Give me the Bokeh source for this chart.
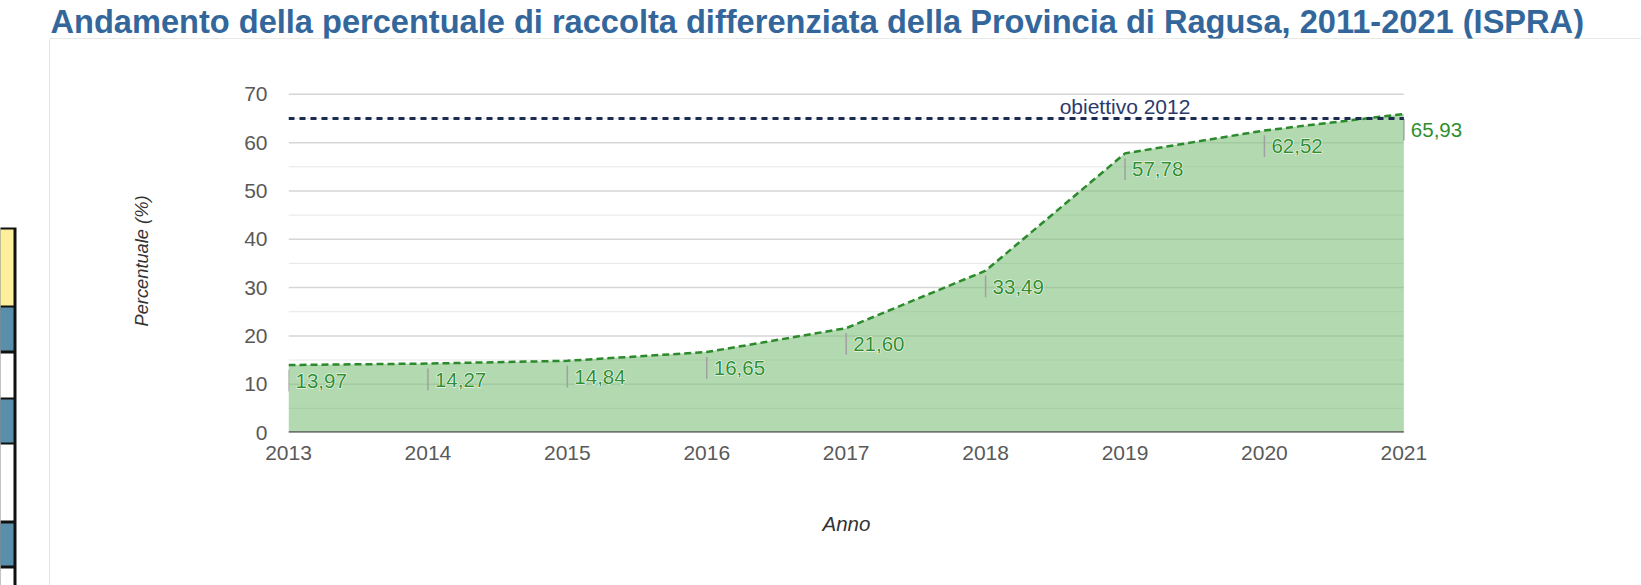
from bokeh.plotting import figure
from bokeh.layouts import column, row
from bokeh.models import (ColumnDataSource, Range1d, FixedTicker, LabelSet, Label, Title)
from bokeh.core.properties import value
from bokeh.embed import file_html
from bokeh.resources import INLINE

# ---------------- data ----------------
years = [2013, 2014, 2015, 2016, 2017, 2018, 2019, 2020, 2021]
percent = [13.97, 14.27, 14.84, 16.65, 21.60, 33.49, 57.78, 62.52, 65.93]
target_value = 65
target_label = "obiettivo 2012"
y_ticks = [0, 10, 20, 30, 40, 50, 60, 70]
y_minor = [5, 15, 25, 35, 45, 55, 65]
title_text = ("Andamento della percentuale di raccolta differenziata della "
              "Provincia di Ragusa, 2011-2021 (ISPRA)")
x_label = "Anno"
y_label = "Percentuale (%)"

# ---------------- style ----------------
FONT = "Liberation Sans"
TITLE_COLOR = "#33679c"
GREEN_LINE = "#2b8a2b"
GREEN_TEXT = "#2f8f2f"
AREA_COLOR = "#80c07d"
NAVY = "#1c2b50"
PANEL_LINE = "#d4d4cc"

# decoration: fragment of a neighbouring table at the left border (page px)
frag_cells_top = [229, 307, 353, 399, 444, 523, 568]
frag_cells_bot = [305, 350, 397, 442, 520, 565, 600]
frag_cells_col = ["#fdef9b", "#5a8fab", "#ffffff", "#5a8fab", "#ffffff", "#5a8fab", "#ffffff"]

W, H = 1641, 585
TOP_H = 39
LEFT_W = 50


def no_align(fig):
    if "frame_align" in fig.properties():
        fig.frame_align = False
    return fig


# ---------------- top strip (title + panel top border) ----------------
top = figure(width=W, height=TOP_H, x_range=Range1d(0, W), y_range=Range1d(TOP_H, 0),
             x_axis_type=None, y_axis_type=None, output_backend="svg",
             toolbar_location=None, min_border=0, outline_line_color=None)
top.min_border_left = top.min_border_right = top.min_border_top = top.min_border_bottom = 0
top.text(x=[50], y=[20.5], text=[title_text], text_font=value(FONT), text_font_style="bold",
         text_font_size="32.6px", text_color=TITLE_COLOR, text_baseline="middle",
         text_align="left")
top.segment(x0=[49], y0=[38.5], x1=[W], y1=[38.5], line_color=PANEL_LINE, line_width=1.2)
no_align(top)

# ---------------- left strip (table fragment + panel left border) ----------------
left = figure(width=LEFT_W, height=H - TOP_H, x_range=Range1d(0, LEFT_W),
              y_range=Range1d(H, TOP_H),
              x_axis_type=None, y_axis_type=None, output_backend="svg",
              toolbar_location=None, min_border=0, outline_line_color=None)
left.min_border_left = left.min_border_right = left.min_border_top = left.min_border_bottom = 0
left.quad(left=[-2], right=[16], top=[227], bottom=[600], fill_color="#111111", line_color=None)
left.quad(left=[-2] * len(frag_cells_top), right=[13] * len(frag_cells_top),
          top=frag_cells_top, bottom=frag_cells_bot, fill_color=frag_cells_col, line_color=None)
left.segment(x0=[49.5], y0=[38], x1=[49.5], y1=[600], line_color=PANEL_LINE, line_width=1.2)
no_align(left)

# ---------------- main chart ----------------
# frame extends a little to the right of 2021 so that the last label is visible;
# grid lines are drawn only across the 2013-2021 span, as in the original chart
p = figure(width=W - LEFT_W, height=H - TOP_H, x_range=Range1d(years[0], years[-1] + 0.6),
           y_range=Range1d(y_ticks[0], y_ticks[-1] + 1),
           output_backend="svg", toolbar_location=None,
           min_border_left=238, min_border_right=154, min_border_top=50, min_border_bottom=153,
           outline_line_color=None, background_fill_color="white", border_fill_color="white")
no_align(p)

x_first, x_last = years[0], years[-1]
p.segment(x0=[x_first] * len(y_minor), x1=[x_last] * len(y_minor), y0=y_minor, y1=y_minor,
          line_color="#e6e6e6", line_width=1)
p.segment(x0=[x_first] * len(y_ticks), x1=[x_last] * len(y_ticks), y0=y_ticks, y1=y_ticks,
          line_color="#d6d6d6", line_width=1.5)

p.varea(x=years, y1=[0] * len(years), y2=percent, fill_color=AREA_COLOR, fill_alpha=0.6)
p.line(x=years, y=percent, line_color=GREEN_LINE, line_width=2.5, line_dash="7 4")

# baseline
p.segment(x0=[x_first], x1=[x_last], y0=[0], y1=[0], line_color="#555555", line_width=2.5)

# small grey tick under each data label
p.segment(x0=years, x1=years, y0=[v - 1.0 for v in percent], y1=[v - 5.5 for v in percent],
          line_color="#a0a0a0", line_width=1.5)

# target line
p.line(x=[x_first, x_last], y=[target_value, target_value], line_color=NAVY,
       line_width=3, line_dash="6 5")
p.add_layout(Label(x=2019, y=target_value, text=target_label, text_align="center",
                   text_baseline="middle", y_offset=12, text_font=FONT,
                   text_font_size="21px", text_color="#2b3a6b"))

labels = [f"{v:.2f}".replace(".", ",") for v in percent]
src = ColumnDataSource(dict(x=years, y=percent, text=labels))
ls_kwargs = dict(x="x", y="y", text="text", source=src, x_offset=7, y_offset=-16,
                 text_align="left", text_baseline="middle", text_font=value(FONT),
                 text_font_size="20.5px", text_color=GREEN_TEXT)
if "text_outline_color" in LabelSet.properties():
    halo = dict(ls_kwargs)
    halo["text_outline_color"] = "white"
    halo["text_color"] = "white"
    p.add_layout(LabelSet(**halo))
p.add_layout(LabelSet(**ls_kwargs))

# axes
p.xaxis.ticker = FixedTicker(ticks=years)
p.yaxis.ticker = FixedTicker(ticks=y_ticks, minor_ticks=y_minor)
for ax in (p.xaxis, p.yaxis):
    ax.major_label_text_font = FONT
    ax.major_label_text_font_size = "21px"
    ax.major_label_text_color = "#595959"
    ax.axis_label_text_font = FONT
    ax.axis_label_text_font_style = "italic"
    ax.axis_label_text_color = "#333333"
    ax.axis_line_color = None
    ax.major_tick_line_color = None
    ax.minor_tick_line_color = None
    ax.major_tick_out = 0
    ax.minor_tick_out = 0
p.yaxis.axis_label = y_label
p.yaxis.axis_label_text_font_size = "18.3px"
p.xaxis.major_label_standoff = 13
p.yaxis.major_label_standoff = 21
p.yaxis.axis_label_standoff = 89

# x axis title, centred under the 2013-2021 span (the frame is a bit wider)
p.add_layout(Title(text=x_label, align="left", offset=534, standoff=95,
                   text_font=FONT, text_font_style="italic", text_font_size="20.5px",
                   text_color="#333333"), "below")

p.xgrid.grid_line_color = None
p.ygrid.grid_line_color = None

layout = column(top, row(left, p))
open("out.html", "w").write(file_html(layout, INLINE))
